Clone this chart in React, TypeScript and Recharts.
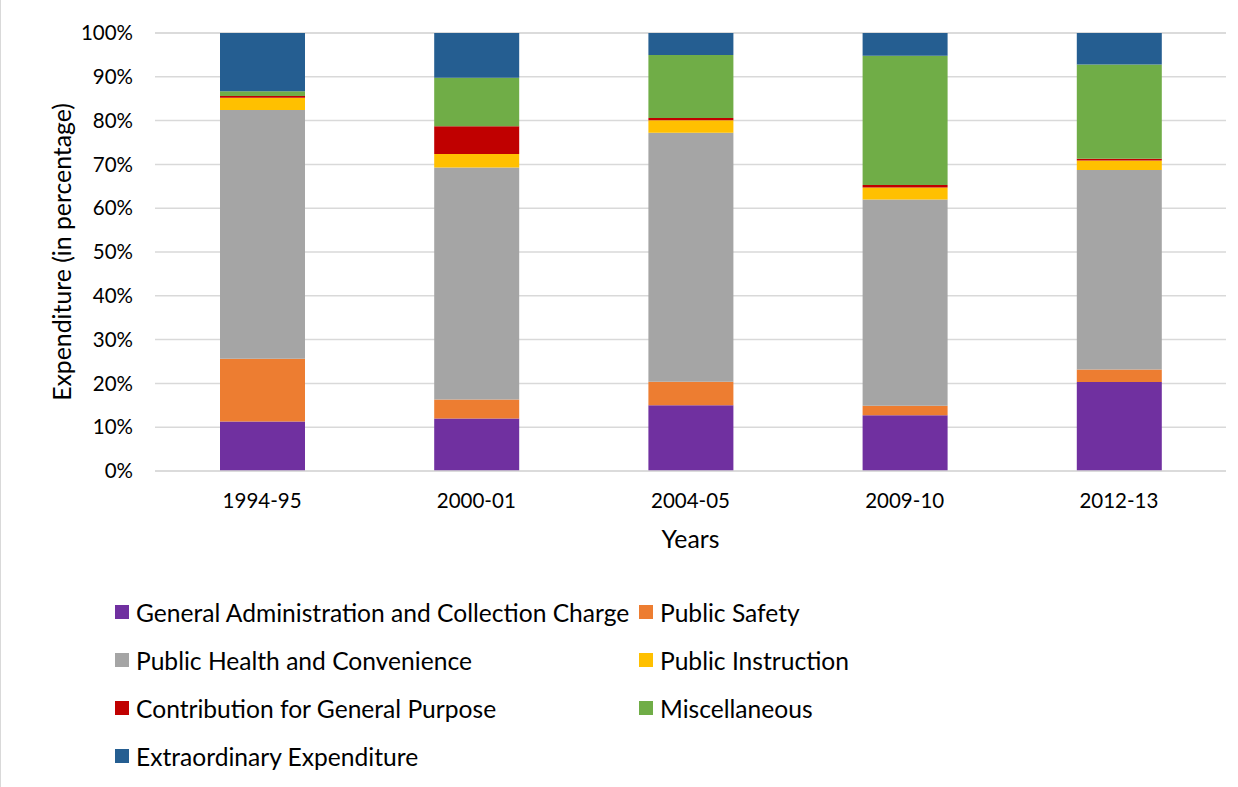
import React from 'react';
import { BarChart, Bar, XAxis, YAxis, CartesianGrid, Legend } from 'recharts';

const categories = ['1994-95', '2000-01', '2004-05', '2009-10', '2012-13'];
const genAdmin = [11.3, 12.0, 15.0, 12.7, 20.3];
const publicSafety = [14.3, 4.3, 5.4, 2.2, 2.9];
const publicHealth = [56.8, 53.0, 56.8, 47.1, 45.5];
const publicInstruction = [2.8, 3.1, 2.9, 2.7, 2.2];
const contribution = [0.4, 6.3, 0.5, 0.6, 0.4];
const misc = [1.1, 11.1, 14.4, 29.5, 21.5];
const extraordinary = [13.3, 10.2, 5.0, 5.2, 7.2];
const yTicks = [0, 10, 20, 30, 40, 50, 60, 70, 80, 90, 100];

const seriesNames = [
  'General Administration and Collection Charge',
  'Public Safety',
  'Public Health and Convenience',
  'Public Instruction',
  'Contribution for General Purpose',
  'Miscellaneous',
  'Extraordinary Expenditure',
];
const seriesValues = [genAdmin, publicSafety, publicHealth, publicInstruction, contribution, misc, extraordinary];
const seriesColors = ['#7030A0', '#ED7D31', '#A5A5A5', '#FFC000', '#C00000', '#70AD47', '#255E91'];
const keys = ['s0', 's1', 's2', 's3', 's4', 's5', 's6'];

const data = categories.map((c, i) => {
  const row: Record<string, number | string> = { year: c };
  seriesValues.forEach((vals, k) => {
    row[keys[k]] = vals[i];
  });
  return row;
});

const FONT = 'Lato, "Open Sans", sans-serif';
const TEXT = '#000000';

const LegendContent = (props: any) => {
  const payload = props.payload || [];
  const ordered = keys
    .map((k) => payload.find((p: any) => p.dataKey === k))
    .filter(Boolean);
  return (
    <div
      style={{
        display: 'grid',
        gridTemplateColumns: '524px 300px',
        rowGap: 0,
        fontFamily: FONT,
        fontSize: 24.6,
        color: TEXT,
      }}
    >
      {ordered.map((p: any) => (
        <div key={p.value} style={{ display: 'flex', alignItems: 'center', height: 48, whiteSpace: 'nowrap' }}>
          <span style={{ display: 'inline-block', width: 14, height: 14, background: p.color, marginRight: 7 }} />
          <span>{p.value}</span>
        </div>
      ))}
    </div>
  );
};

const YLabel = (props: any) => {
  const vb = props.viewBox || { x: 0, y: 0, height: 0 };
  const cx = 60;
  const cy = vb.y + vb.height / 2;
  return (
    <text
      x={cx}
      y={cy}
      transform={`rotate(-90, ${cx}, ${cy})`}
      textAnchor="middle"
      dominantBaseline="central"
      fontFamily={FONT}
      fontSize={24.8}
      fill={TEXT}
    >
      Expenditure (in percentage)
    </text>
  );
};

export default function App() {
  return (
    <div style={{ position: 'absolute', left: 0, top: 0, width: 1238, height: 787, background: '#fff', borderLeft: '1px solid #d9d9d9', boxSizing: 'border-box' }}>
      <BarChart
        width={1237}
        height={787}
        data={data}
        margin={{ top: 33, right: 12, left: 74, bottom: 236 }}
      >
        <CartesianGrid vertical={false} stroke="#d9d9d9" strokeWidth={1.5} />
        <XAxis
          dataKey="year"
          height={80}
          tickLine={false}
          tickSize={0}
          tickMargin={22}
          axisLine={{ stroke: '#d9d9d9', strokeWidth: 1.5 }}
          tick={{ fontFamily: FONT, fontSize: 20.5, fill: TEXT }}
          label={{ value: 'Years', position: 'insideBottom', offset: 3, fontFamily: FONT, fontSize: 24.8, fill: TEXT }}
        />
        <YAxis
          width={80}
          domain={[0, 100]}
          ticks={yTicks}
          interval={0}
          tickFormatter={(v: number) => `${v}%`}
          axisLine={false}
          tickLine={false}
          tickSize={0}
          tickMargin={22}
          tick={{ fontFamily: FONT, fontSize: 20.5, fill: TEXT }}
          label={{ content: YLabel }}
        />
        <Legend
          layout="horizontal"
          verticalAlign="middle"
          align="center"
          content={<LegendContent />}
          wrapperStyle={{ top: 588, left: 114, width: 900 }}
        />
        {keys.map((k, i) => (
          <Bar
            key={k}
            dataKey={k}
            name={seriesNames[i]}
            stackId="a"
            fill={seriesColors[i]}
            barSize={85}
            isAnimationActive={false}
          />
        ))}
      </BarChart>
    </div>
  );
}
